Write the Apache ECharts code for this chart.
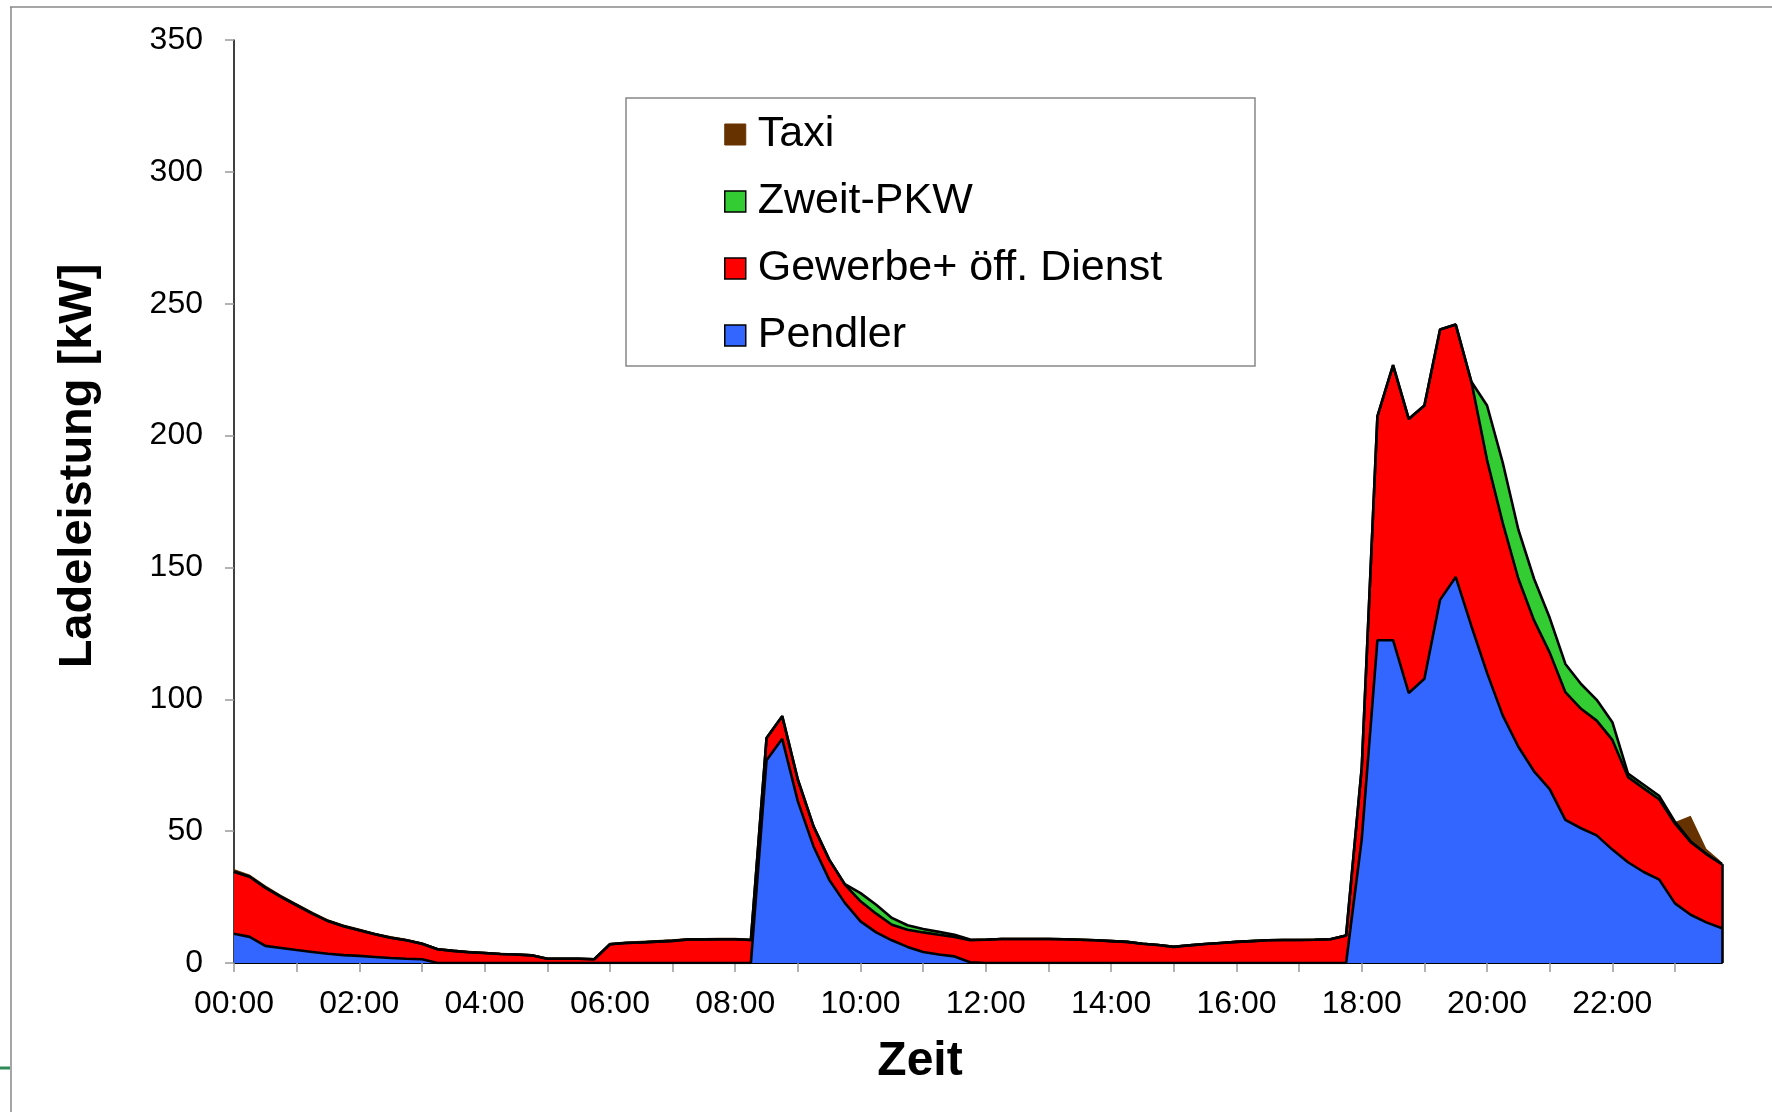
<!DOCTYPE html>
<html>
<head>
<meta charset="utf-8">
<script src="https://cdn.jsdelivr.net/npm/echarts@6/dist/echarts.min.js"></script>
<style>
  html, body { margin: 0; padding: 0; background: #fff; }
  #chart { width: 1772px; height: 1112px; }
</style>
</head>
<body>
<div id="chart"></div>
<script>
// 15-minute slots, 00:00 .. 23:45
const times = [];
for (let h = 0; h < 24; h++) {
  for (let m = 0; m < 60; m += 15) {
    times.push(String(h).padStart(2, '0') + ':' + String(m).padStart(2, '0'));
  }
}

const pendler = [
  11.1, 9.9, 6.5, 5.7, 4.9, 4.2, 3.5, 3.0, 2.7, 2.3, 1.9, 1.6,
  1.4, 0, 0, 0, 0, 0, 0, 0, 0, 0, 0, 0,
  0, 0, 0, 0, 0, 0, 0, 0, 0, 0, 76.9, 85.0,
  61.3, 44.2, 31.6, 22.8, 15.8, 11.6, 8.6, 6.1, 4.2, 3.2, 2.5, 0.3,
  0, 0, 0, 0, 0, 0, 0, 0, 0, 0, 0, 0,
  0, 0, 0, 0, 0, 0, 0, 0, 0, 0, 0, 0,
  47.0, 122.4, 122.4, 102.4, 107.8, 137.7, 146.4, 127.8, 110.0, 93.9, 82.0, 72.7,
  65.9, 54.3, 51.1, 48.4, 43.0, 38.2, 34.5, 31.6, 22.6, 18.3, 15.4, 13.2
];

const gewerbe = [
  23.5, 22.8, 22.1, 19.4, 17.0, 14.5, 12.4, 10.9, 9.7, 8.6, 7.7, 7.0,
  5.9, 5.2, 4.6, 4.1, 3.8, 3.4, 3.2, 2.9, 1.6, 1.6, 1.6, 1.4,
  7.1, 7.6, 7.8, 8.1, 8.4, 8.9, 8.9, 9.0, 9.0, 8.7, 8.4, 8.6,
  8.2, 7.6, 7.6, 6.9, 7.6, 7.1, 5.9, 6.5, 7.4, 7.5, 7.4, 8.3,
  8.8, 9.1, 9.1, 9.1, 9.1, 9.0, 8.8, 8.6, 8.3, 8.0, 7.3, 6.8,
  6.1, 6.7, 7.2, 7.6, 8.0, 8.3, 8.6, 8.7, 8.7, 8.8, 9.0, 10.4,
  27.1, 84.9, 104.3, 103.9, 103.6, 102.5, 95.7, 92.6, 80.7, 73.0, 63.7, 57.2,
  51.8, 48.4, 45.3, 43.5, 41.6, 32.3, 31.7, 30.4, 30.2, 27.5, 25.9, 24.3
];

const zweitPkw = [
  0, 0, 0, 0, 0, 0, 0, 0, 0, 0, 0, 0,
  0, 0, 0, 0, 0, 0, 0, 0, 0, 0, 0, 0,
  0, 0, 0, 0, 0, 0, 0, 0, 0, 0, 0, 0,
  0, 0, 0, 0.2, 3.1, 3.4, 2.6, 1.7, 1.3, 1.1, 0.8, 0.3,
  0, 0, 0, 0, 0, 0, 0, 0, 0, 0, 0, 0,
  0, 0, 0, 0, 0, 0, 0, 0, 0, 0, 0, 0,
  0, 0, 0, 0, 0, 0, 0, 0, 20.7, 22.9, 18.6, 15.8,
  13.2, 10.7, 9.4, 7.9, 6.7, 1.3, 1.4, 1.3, 0.7, 0.3, 0, 0
];

const taxi = [
  1.0, 0.9, 0.9, 0.8, 0.8, 0.8, 0.7, 0.7, 0.7, 0.6, 0.6, 0.6,
  0.6, 0.5, 0.5, 0.5, 0.5, 0.5, 0.5, 0.5, 0.5, 0.5, 0.5, 0.5,
  0.6, 0.6, 0.6, 0.6, 0.6, 0.6, 0.6, 0.6, 0.6, 0.5, 0, 0,
  0, 0, 0, 0, 0, 0, 0, 0, 0, 0, 0, 0.3,
  0.5, 0.5, 0.5, 0.5, 0.5, 0.5, 0.5, 0.5, 0.5, 0.5, 0.5, 0.5,
  0.5, 0.5, 0.5, 0.5, 0.5, 0.5, 0.5, 0.5, 0.5, 0.5, 0.5, 0.5,
  0, 0, 0, 0, 0, 0, 0, 0, 0, 0, 0, 0,
  0, 0, 0, 0, 0, 0, 0, 0, 0, 9.7, 2.0, 0.7
];

const yTicks = [0, 350, 50];  // min, max, interval

const fontFam = '"Liberation Sans", Arial, sans-serif';
const chart = echarts.init(document.getElementById('chart'));

const last = times.length - 1;
const edgeTop = pendler[last] + gewerbe[last] + zweitPkw[last];

function area(name, data, color) {
  return {
    name: name,
    type: 'line',
    stack: 'total',
    data: data,
    color: color,
    symbol: 'none',
    lineStyle: { width: 0 },
    areaStyle: { color: color, opacity: 1 },
    z: 2
  };
}

// black borders between the stacked layers, drawn above all fills
function outline(name, data, extra) {
  return Object.assign({
    name: name,
    type: 'line',
    stack: 'outline',
    data: data,
    symbol: 'none',
    silent: true,
    lineStyle: { color: '#000', width: 2.6 },
    z: 3
  }, extra || {});
}

const option = {
  animation: false,
  backgroundColor: '#fff',
  grid: { left: 234, right: 50, top: 40, bottom: 149, containLabel: false },
  xAxis: {
    type: 'category',
    data: times,
    boundaryGap: false,
    axisLine: { lineStyle: { color: '#000', width: 2 } },
    axisTick: { interval: 3, length: 9, lineStyle: { color: '#999', width: 1.5 } },
    axisLabel: { interval: 7, margin: 25, fontSize: 32, color: '#000', fontFamily: fontFam },
    splitLine: { show: false }
  },
  yAxis: {
    type: 'value',
    min: yTicks[0],
    max: yTicks[1],
    interval: yTicks[2],
    axisLine: { show: true, lineStyle: { color: '#000', width: 1.5 } },
    axisTick: { show: true, length: 9, lineStyle: { color: '#999', width: 1.5 } },
    axisLabel: { margin: 31, fontSize: 32, color: '#000', fontFamily: fontFam },
    splitLine: { show: false }
  },
  legend: {
    orient: 'vertical',
    left: 724,
    top: 113,
    padding: 0,
    itemWidth: 21,
    itemHeight: 21,
    itemGap: 24,
    icon: 'rect',
    textStyle: { fontSize: 43, lineHeight: 43, color: '#000', fontFamily: fontFam, padding: [0, 0, 0, 7] },
    data: [
      { name: 'Taxi', itemStyle: { color: '#663300', borderColor: '#663300', borderWidth: 1 } },
      { name: 'Zweit-PKW', itemStyle: { color: '#33cc33', borderColor: '#000', borderWidth: 1.5 } },
      { name: 'Gewerbe+ öff. Dienst', itemStyle: { color: '#ff0000', borderColor: '#000', borderWidth: 1.5 } },
      { name: 'Pendler', itemStyle: { color: '#3366ff', borderColor: '#000', borderWidth: 1.5 } }
    ]
  },
  graphic: [
    { type: 'line', shape: { x1: 10, y1: 7, x2: 1772, y2: 7 }, style: { stroke: '#888', lineWidth: 1.5 }, silent: true },
    { type: 'line', shape: { x1: 11, y1: 7, x2: 11, y2: 1112 }, style: { stroke: '#888', lineWidth: 1.5 }, silent: true },
    { type: 'line', shape: { x1: 0, y1: 1068, x2: 10, y2: 1068 }, style: { stroke: '#2e8b57', lineWidth: 3 }, silent: true },
    {
      type: 'rect', z: -1, silent: true,
      shape: { x: 626, y: 98, width: 629, height: 268 },
      style: { fill: '#fff', stroke: '#888', lineWidth: 1.5 }
    },
    {
      type: 'text', x: 78, y: 466, rotation: Math.PI / 2, silent: true,
      style: {
        text: 'Ladeleistung [kW]', fill: '#000',
        font: 'bold 47px ' + fontFam, textAlign: 'center', textVerticalAlign: 'middle'
      }
    },
    {
      type: 'text', x: 920, y: 1062, silent: true,
      style: {
        text: 'Zeit', fill: '#000',
        font: 'bold 48px ' + fontFam, textAlign: 'center', textVerticalAlign: 'middle'
      }
    }
  ],
  series: [
    area('Pendler', pendler, '#3366ff'),
    area('Gewerbe+ öff. Dienst', gewerbe, '#ff0000'),
    area('Zweit-PKW', zweitPkw, '#33cc33'),
    area('Taxi', taxi, '#663300'),
    outline('o1', pendler),
    outline('o2', gewerbe),
    outline('o3', zweitPkw, {
      markLine: {
        silent: true,
        symbol: 'none',
        label: { show: false },
        lineStyle: { color: '#000', width: 2.6, type: 'solid' },
        data: [[{ coord: [times[last], 0] }, { coord: [times[last], edgeTop] }]]
      }
    })
  ]
};

chart.setOption(option);
window.addEventListener('resize', function () { chart.resize(); });
</script>
</body>
</html>
